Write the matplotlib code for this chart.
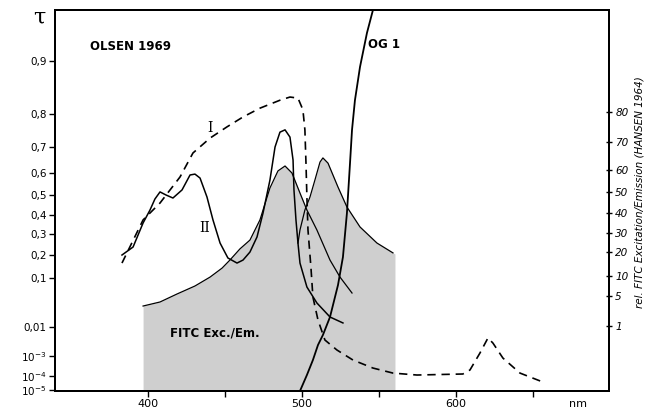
import numpy as np
import matplotlib
matplotlib.use('Agg')
import matplotlib.pyplot as plt
from matplotlib.ticker import NullLocator

plt.rcParams['font.family'] = 'DejaVu Sans'
plt.rcParams['mathtext.default'] = 'regular'

# Curve I (dashed), OLSEN 1969
nm_I = [383.1, 396.8, 407.8, 420.8, 429.2, 440.3, 451.3, 461.7, 472.7, 485.7,
        492.2, 497.4, 500.6, 501.9, 502.6, 503.2, 503.9, 505.8, 507.1, 510.4,
        514.9, 522.7, 533.1, 546.1, 559.1, 574.7, 604.5, 609.1, 615.6, 620.8,
        624.0, 630.5, 641.6, 656.5]
tau_I = [0.165, 0.374, 0.46, 0.582, 0.677, 0.727, 0.761, 0.791, 0.811, 0.826,
         0.832, 0.830, 0.808, 0.752, 0.638, 0.49, 0.321, 0.148, 0.041, 0.0139,
         3.56e-3, 1.61e-3, 6.3e-4, 2.5e-4, 1.4e-4, 1.12e-4, 1.26e-4, 2.0e-4, 1.27e-3, 4.2e-3,
         2.8e-3, 7.9e-4, 1.4e-4, 3.7e-5]

# Curve II (solid)
nm_II = [383.1, 390.3, 396.8, 401.3, 404.5, 407.8, 411.7, 416.2, 422.1, 427.3,
         430.5, 433.8, 438.3, 442.2, 446.8, 451.9, 457.8, 461.7, 466.2, 470.8,
         474.7, 479.2, 482.5, 485.7, 489.0, 492.2, 494.2, 494.8, 496.1, 497.4,
         498.7, 503.2, 509.7, 518.2, 526.6]
tau_II = [0.2, 0.238, 0.358, 0.425, 0.48, 0.514, 0.5, 0.485, 0.523, 0.591,
          0.595, 0.577, 0.49, 0.374, 0.257, 0.187, 0.165, 0.178, 0.214, 0.286,
          0.41, 0.568, 0.7, 0.745, 0.752, 0.73, 0.65, 0.523, 0.374, 0.257,
          0.165, 0.0655, 0.0309, 0.016, 0.0121]

# OG 1 filter
nm_og = [498.7, 503.2, 507.1, 510.4, 513.6, 518.2, 523.4, 526.6, 529.2, 531.2,
         532.5, 534.4, 537.7, 542.2, 546.1]
tau_og = [8.5e-6, 1.12e-4, 6.3e-4, 2.4e-3, 5.3e-3, 0.016, 0.072, 0.191, 0.41, 0.638,
          0.752, 0.826, 0.889, 0.955, 1.0]

# FITC excitation / emission (HANSEN 1964)
nm_exc = [396.8, 407.8, 418.8, 430.5, 440.3, 448.1, 453.2, 459.7, 466.2, 472.7,
          479.2, 484.4, 489.0, 493.5, 498.7, 503.2, 509.7, 518.2, 524.7, 532.5]
tau_exc = [0.0268, 0.0324, 0.0471, 0.0687, 0.104, 0.143, 0.178, 0.229, 0.271, 0.374,
           0.532, 0.608, 0.627, 0.6, 0.509, 0.425, 0.321, 0.178, 0.104, 0.0494]
nm_em = [497.4, 498.7, 501.9, 505.2, 508.4, 511.7, 513.6, 516.9, 523.4, 529.2,
         537.7, 548.7, 559.1, 560.4]
tau_em = [0.257, 0.321, 0.425, 0.49, 0.568, 0.642, 0.658, 0.638, 0.536, 0.44,
          0.337, 0.257, 0.21, 0.205]

# axis ticks
left_ticks = [1e-5, 1e-4, 1e-3, 0.01, 0.1, 0.2, 0.3, 0.4, 0.5, 0.6, 0.7, 0.8, 0.9]
left_labels = ['$10^{-5}$', '$10^{-4}$', '$10^{-3}$', '0,01', '0,1', '0,2', '0,3',
               '0,4', '0,5', '0,6', '0,7', '0,8', '0,9']
right_ticks = [0.0105, 0.043, 0.109, 0.214, 0.305, 0.41, 0.514, 0.612, 0.715, 0.804]
right_labels = ['1', '5', '10', '20', '30', '40', '50', '60', '70', '80']

# the paper's nonlinear tau scale, pinned at the printed tick heights
TAU_NODES = np.array([1e-6, 1e-5, 1e-4, 1e-3, 0.01, 0.1, 0.2, 0.3, 0.4, 0.5,
                      0.6, 0.7, 0.8, 0.9, 1.0])
PIX_NODES = np.array([404, 390, 376, 356, 327, 278, 255, 234, 215, 195,
                      173, 147, 114, 61, 10], dtype=float)


def to_u(t):
    t = np.clip(np.asarray(t, dtype=float), 1e-9, None)
    return np.where(t >= 0.1, t, 0.1 * (2 + np.log10(t)))


def from_u(u):
    u = np.asarray(u, dtype=float)
    return np.where(u >= 0.1, u, 10 ** (np.minimum(u, 0.1) / 0.1 - 2))


U_NODES = to_u(TAU_NODES)


def fwd(t):
    return np.interp(to_u(t), U_NODES, -PIX_NODES)


def inv(p):
    return from_u(np.interp(p, -PIX_NODES, U_NODES))


W, H = 665, 409
fig = plt.figure(figsize=(W / 100, H / 100), dpi=100)
ax = fig.add_axes([55 / W, 18 / H, 554 / W, 381 / H])
ax.set_yscale('function', functions=(fwd, inv))
ax.set_xlim(339.6, 699.4)
ax.set_ylim(8.5e-6, 1.0)

gray = '#cfcfcf'
ax.fill_between(nm_exc, tau_exc, 8.5e-6, color=gray, lw=0, zorder=1)
ax.fill_between(nm_em, tau_em, 8.5e-6, color=gray, lw=0, zorder=1)
ax.plot(nm_exc, tau_exc, color='black', lw=0.9, zorder=2)
ax.plot(nm_em[:-1], tau_em[:-1], color='black', lw=0.9, zorder=2)

ax.plot(nm_I, tau_I, color='black', lw=1.2, ls=(0, (5, 3.5)), zorder=3)
ax.plot(nm_II, tau_II, color='black', lw=1.1, zorder=3)
ax.plot(nm_og, tau_og, color='black', lw=1.3, zorder=3)

ax.set_yticks(left_ticks)
ax.set_yticklabels(left_labels, fontsize=7.5)
ax.yaxis.set_minor_locator(NullLocator())
ax.set_xticks([400, 500, 600])
ax.set_xticklabels(['400', '500', '600'], fontsize=8)
ax.set_xticks([450, 550, 650], minor=True)
ax.tick_params(axis='both', which='both', direction='out', length=4, width=1, pad=2)

ax2 = ax.twinx()
ax2.set_yscale('function', functions=(fwd, inv))
ax2.set_ylim(8.5e-6, 1.0)
ax2.set_yticks(right_ticks)
ax2.set_yticklabels(right_labels, fontsize=7.5, style='italic')
ax2.yaxis.set_minor_locator(NullLocator())
ax2.tick_params(axis='y', direction='inout', length=5, width=1, pad=2)

for a in (ax, ax2):
    for s in a.spines.values():
        s.set_linewidth(1.4)


def fp(x, y):
    return x / W, 1 - y / H


fig.text(*fp(40, 18), r'$\tau$', fontsize=16, ha='center', va='center',
         family='DejaVu Serif')
fig.text(*fp(90, 46), 'OLSEN 1969', fontsize=8.5, fontweight='bold', va='center')
fig.text(*fp(368, 45), 'OG 1', fontsize=8.5, fontweight='bold', va='center')
fig.text(*fp(210, 128), 'I', fontsize=10, family='DejaVu Serif', ha='center', va='center')
fig.text(*fp(205, 228), 'II', fontsize=10, family='DejaVu Serif', ha='center', va='center')
fig.text(*fp(170, 333), 'FITC Exc./Em.', fontsize=8.5, fontweight='bold', va='center')
fig.text(*fp(578, 404), 'nm', fontsize=8, ha='center', va='center')
fig.text(*fp(639, 192), 'rel. FITC Excitation/Emission (HANSEN 1964)', fontsize=7.5,
         style='italic', rotation=90, ha='center', va='center')

fig.savefig('out.png', dpi=100)
